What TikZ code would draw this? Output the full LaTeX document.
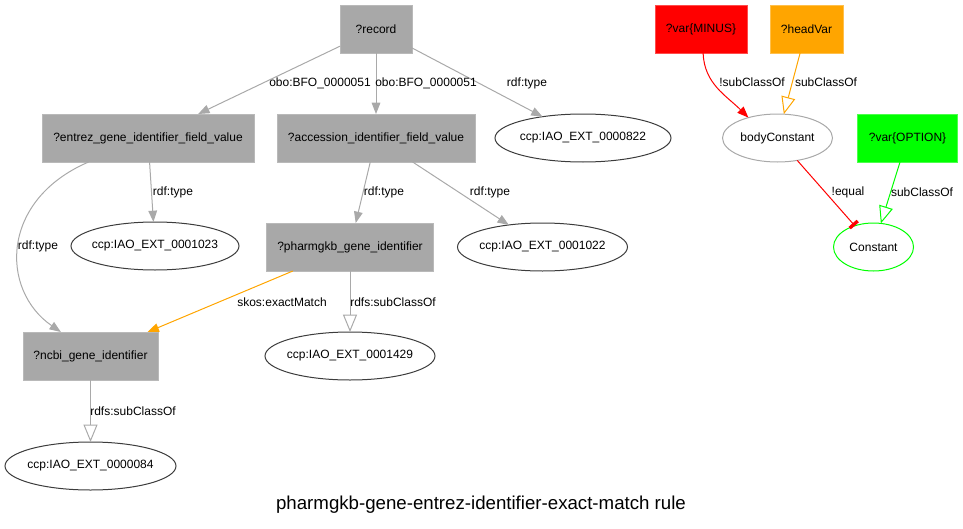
\documentclass[tikz,border=0pt]{standalone}
\usepackage{fontspec}
\setmainfont{Liberation Sans}
\usetikzlibrary{arrows.meta,positioning,shapes.geometric}
\definecolor{varfill}{HTML}{A8A8A8}
\definecolor{edgegray}{HTML}{A9A9A9}
\definecolor{inkgray}{HTML}{3C3C3C}
\definecolor{minusred}{HTML}{FF0000}
\definecolor{headorange}{HTML}{FFA500}
\definecolor{optgreen}{HTML}{00FF00}
\tikzset{
  varbox/.style={rectangle, draw=varfill!80, fill=varfill, line width=0.6pt, inner sep=0pt, outer sep=0pt,
                 minimum height=36pt, font=\fontsize{9}{11}\selectfont, text=black},
  classnode/.style={ellipse, draw=inkgray, fill=white, line width=0.75pt, inner xsep=-6pt, inner ysep=0pt,
                    outer sep=0pt, minimum height=36pt, font=\fontsize{9}{11}\selectfont},
  minusbox/.style={varbox, draw=minusred!70, fill=minusred},
  headbox/.style={varbox, draw=headorange!70, fill=headorange},
  optbox/.style={varbox, draw=optgreen!70, fill=optgreen},
  lbl/.style={font=\fontsize{9}{11}\selectfont, inner sep=1pt},
  flow/.style={-{Triangle[length=8.5pt, width=6.5pt]}, draw=edgegray, line width=0.75pt},
  subflow/.style={-{Triangle[open, length=13pt, width=10.5pt]}, draw=edgegray, line width=0.75pt},
  matchflow/.style={flow, draw=headorange, -{Triangle[length=8.5pt, width=6.5pt, fill=headorange]}},
  notflow/.style={flow, draw=minusred, -{Triangle[length=8.5pt, width=6.5pt, fill=minusred]}},
  headflow/.style={subflow, draw=headorange},
  optflow/.style={subflow, draw=optgreen},
  teeflow/.style={-{Rectangle[length=2.5pt, width=8pt, fill=minusred]}, draw=minusred, line width=0.75pt}
}
\begin{document}
\begin{tikzpicture}[x=0.75pt, y=-0.75pt]
 \useasboundingbox (0,0) rectangle (963,528);
 \node[varbox, minimum width=54pt] (record) at (376,29) {?record};
 \node[varbox, below=45.75pt of record, minimum width=148.5pt] (acc) {?accession\_identifier\_field\_value};
 \node[varbox, left=17.25pt of acc, minimum width=159pt] (entrez) {?entrez\_gene\_identifier\_field\_value};
 \node[classnode, right=15pt of acc, minimum width=132pt] (iao822) {ccp:IAO\_EXT\_0000822};
 \node[varbox, below=45.75pt of acc, xshift=-19.5pt, minimum width=125.25pt] (pharm) {?pharmgkb\_gene\_identifier};
 \node[classnode, below=45pt of entrez, xshift=5.25pt, minimum width=126pt] (iao1023) {ccp:IAO\_EXT\_0001023};
 \node[classnode, right=18pt of pharm, minimum width=127.5pt] (iao1022) {ccp:IAO\_EXT\_0001022};
 \node[classnode, below=45.75pt of pharm, minimum width=127.5pt] (iao1429) {ccp:IAO\_EXT\_0001429};
 \node[varbox, left=80.25pt of iao1429, minimum width=101.25pt] (ncbi) {?ncbi\_gene\_identifier};
 \node[classnode, below=46.5pt of ncbi, minimum width=128.25pt] (iao084) {ccp:IAO\_EXT\_0000084};
 \node[minusbox, right=182.25pt of record, minimum width=69pt] (minus) {?var\{MINUS\}};
 \node[headbox, right=17.25pt of minus, minimum width=54.75pt] (head) {?headVar};
 \node[classnode, draw=edgegray, below=45.75pt of head, xshift=-21.75pt, minimum width=82.5pt] (body) {bodyConstant};
 \node[optbox, right=18.75pt of body, minimum width=75pt] (option) {?var\{OPTION\}};
 \node[classnode, draw=optgreen, below=45.75pt of option, xshift=-25.5pt, minimum width=60pt] (const) {Constant};
 \node[font=\fontsize{14}{16}\selectfont] (title) at (481,505) {pharmgkb-gene-entrez-identifier-exact-match rule};
 \draw[flow](record)--(entrez);\draw[flow](record)--(acc);\draw[flow](record)--(iao822);
 \draw[flow](entrez)--(iao1023);\draw[flow](acc)--(pharm);\draw[flow](acc)--(iao1022);
 \draw[flow](entrez.202) .. controls (0,200) and (0,290) .. (ncbi.141);
 \draw[matchflow](pharm)--(ncbi);\draw[subflow](pharm)--(iao1429);\draw[subflow](ncbi)--(iao084);
 \draw[notflow](minus.-85) to[out=-88, in=135] (body.145);\draw[headflow](head)--(body);
 \draw[teeflow](body)--(const);\draw[optflow](option)--(const);
 \node[lbl] (l1) at (320,83) {obo:BFO\_0000051};
 \node[lbl] (l2) at (426,83) {obo:BFO\_0000051};
 \node[lbl] (l3) at (527,83) {rdf:type};
 \node[lbl] (l4) at (173,192) {rdf:type};
 \node[lbl] (l5) at (38,246) {rdf:type};
 \node[lbl] (l6) at (384,192) {rdf:type};
 \node[lbl] (l7) at (490,192) {rdf:type};
 \node[lbl] (l8) at (282,302) {skos:exactMatch};
 \node[lbl] (l9) at (393,302) {rdfs:subClassOf};
 \node[lbl] (l10) at (133,411) {rdfs:subClassOf};
 \node[lbl] (l11) at (752,82) {!subClassOf};
 \node[lbl] (l12) at (826,82) {subClassOf};
 \node[lbl] (l13) at (848,192) {!equal};
 \node[lbl] (l14) at (922,192) {subClassOf};
\end{tikzpicture}
\end{document}
